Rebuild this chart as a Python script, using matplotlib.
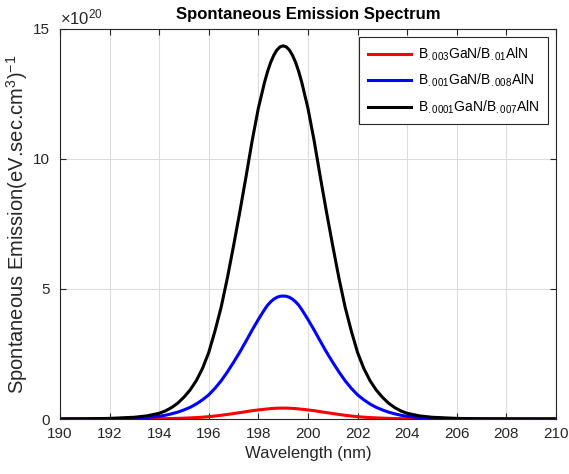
import matplotlib
matplotlib.use("Agg")
import matplotlib.pyplot as plt

plt.rcParams['font.family'] = ['Liberation Sans', 'DejaVu Sans']
plt.rcParams['mathtext.fontset'] = 'custom'
plt.rcParams['mathtext.rm'] = 'Liberation Sans'
plt.rcParams['mathtext.it'] = 'Liberation Sans'

# Longitud de onda (nm)
longitud_onda = [190, 191, 192, 193, 193.5, 194, 194.25, 194.5, 194.75, 195,
                 195.25, 195.5, 195.75, 196, 196.25, 196.5, 196.75, 197, 197.25, 197.5,
                 197.75, 198, 198.25, 198.375, 198.5, 198.625, 198.75, 198.875, 199,
                 199.125, 199.25, 199.375, 199.5, 199.625, 199.75, 200, 200.25, 200.5, 200.75,
                 201, 201.25, 201.5, 201.75, 202, 202.25, 202.5, 202.75, 203, 203.25,
                 203.5, 203.75, 204, 204.5, 205, 206, 207, 208, 209, 210]

# Emision espontanea (x1e20)
emision_003 = [0.0001, 0.0003, 0.001, 0.003, 0.006, 0.01, 0.014, 0.019, 0.026, 0.034,
               0.044, 0.055, 0.071, 0.09, 0.115, 0.143, 0.176, 0.21, 0.246, 0.282,
               0.32, 0.35, 0.376, 0.389, 0.40, 0.408, 0.415, 0.419, 0.42,
               0.419, 0.415, 0.408, 0.40, 0.389, 0.376, 0.35, 0.32, 0.282, 0.246,
               0.21, 0.176, 0.143, 0.115, 0.09, 0.071, 0.055, 0.044, 0.034, 0.026,
               0.019, 0.014, 0.01, 0.006, 0.003, 0.001, 0.0003, 0.0001, 0.00003, 0.00001]
emision_001 = [0.001, 0.003, 0.01, 0.03, 0.055, 0.105, 0.145, 0.2, 0.265, 0.35,
               0.45, 0.58, 0.74, 0.93, 1.18, 1.47, 1.81, 2.18, 2.57, 2.99,
               3.42, 3.83, 4.21, 4.38, 4.51, 4.61, 4.68, 4.72, 4.73,
               4.72, 4.68, 4.61, 4.51, 4.38, 4.21, 3.83, 3.42, 2.99, 2.57,
               2.18, 1.81, 1.47, 1.18, 0.93, 0.74, 0.58, 0.45, 0.35, 0.265,
               0.2, 0.145, 0.105, 0.055, 0.03, 0.01, 0.003, 0.001, 0.0003, 0.0001]
emision_0001 = [0.003, 0.008, 0.024, 0.068, 0.12, 0.22, 0.31, 0.44, 0.61, 0.84,
                1.12, 1.48, 1.95, 2.56, 3.38, 4.3, 5.42, 6.66, 7.95, 9.3,
                10.7, 11.95, 12.95, 13.37, 13.72, 13.99, 14.19, 14.31, 14.35,
                14.31, 14.19, 13.99, 13.72, 13.37, 12.95, 11.95, 10.7, 9.3, 7.95,
                6.66, 5.42, 4.3, 3.38, 2.56, 1.95, 1.48, 1.12, 0.84, 0.61,
                0.44, 0.31, 0.22, 0.12, 0.068, 0.024, 0.008, 0.003, 0.001, 0.0003]

etiquetas = [r'B$_{.003}$GaN/B$_{.01}$AlN',
             r'B$_{.001}$GaN/B$_{.008}$AlN',
             r'B$_{.0001}$GaN/B$_{.007}$AlN']

gris = '#262626'
fig = plt.figure(figsize=(5.69, 4.74), dpi=100)
ax = fig.add_axes([0.1054, 0.116, 0.8716, 0.823])

ax.plot(longitud_onda, emision_003, color='red', lw=2.2, label=etiquetas[0])
ax.plot(longitud_onda, emision_001, color='blue', lw=2.2, label=etiquetas[1])
ax.plot(longitud_onda, emision_0001, color='black', lw=2.2, label=etiquetas[2])

ax.set_xlim(190, 210)
ax.set_ylim(0, 15)
ax.set_xticks(range(190, 211, 2))
ax.set_yticks([0, 5, 10, 15])
ax.grid(True, color='#dcdcdc', lw=0.8)
ax.set_axisbelow(True)
ax.tick_params(direction='in', top=True, right=True, labelsize=11, colors=gris, length=4)
ax.tick_params(axis='x', pad=6)
ax.tick_params(axis='y', pad=7)
for s in ax.spines.values():
    s.set_color(gris)
    s.set_linewidth(0.8)

ax.set_xlabel('Wavelength (nm)', fontsize=12, color=gris, labelpad=3)
ax.set_ylabel(r'Spontaneous Emission(eV.sec.cm$^{3}$)$^{-1}$', fontsize=14.5, color=gris, labelpad=2)
ax.set_title('Spontaneous Emission Spectrum', fontsize=12, fontweight='bold', pad=7)
ax.text(0.0, 1.003, r'×10$^{20}$', transform=ax.transAxes, ha='left', va='bottom',
        fontsize=12, color=gris)

leg = ax.legend(loc='upper right', fontsize=10, fancybox=False, framealpha=1,
                edgecolor=gris, handlelength=3.1, handletextpad=0.5,
                borderaxespad=0.6, labelspacing=0.65, borderpad=0.6)
leg.get_frame().set_linewidth(0.8)

fig.savefig('out.png', dpi=100)
